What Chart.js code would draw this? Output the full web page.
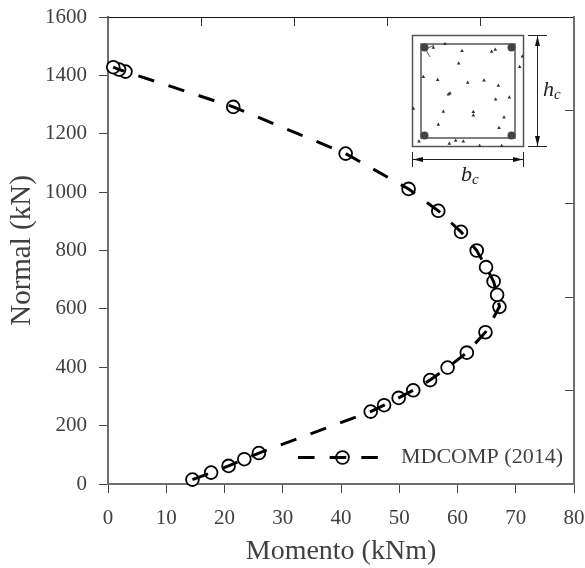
<!DOCTYPE html>
<html>
<head>
<meta charset="utf-8">
<title>Momento - Normal</title>
<script src="https://cdn.jsdelivr.net/npm/chart.js@4"></script>
<style>
    html, body { margin: 0; padding: 0; background: #fff; }
    canvas { display: block; }
</style>
</head>
<body>
<canvas id="chart" width="585" height="568"></canvas>
<script>
// Interaction curve, from the bottom up
const momento = [14.5, 17.7, 20.7, 23.4, 25.9, 45.1, 47.4, 49.9, 52.4, 55.3, 58.3, 61.6, 64.8, 67.2, 66.8, 66.2, 64.9, 63.3, 60.6, 56.7, 51.6, 40.8, 21.5, 3.0, 1.9, 0.9];
const normal = [15, 39, 62, 85, 106, 248, 270, 295, 321, 356, 399, 450, 520, 607, 648, 694, 743, 800, 864, 936, 1011, 1132, 1292, 1413, 1420, 1428];

const seriesName = 'MDCOMP (2014)';
const xTitle = 'Momento (kNm)';
const yTitle = 'Normal (kN)';

const SERIF = '"Liberation Serif", serif';
const TEXT = '#404040';
const AXIS = '#6e6e6e';
const DASH = [16.6, 15.05];

// Aggregate specks of the column section, in inset pixels
const specks = [[165,101],[130,112],[216,122],[305,124],[316,118],[397,138],[206,159],[389,170],[100,200],[143,209],
    [233,217],[282,210],[325,226],[180,249],[175,252],[317,267],[358,261],[70,295],[160,304],[250,305],[250,315],
    [342,321],[145,343],[327,353],[87,393],[178,400],[197,391],[220,393],[269,407],[335,407]];

// Fix the plot box: no room kept for overflowing tick labels
function pinSize(size) {
    return scale => {
        if (scale.isHorizontal()) scale.height = size;
        else scale.width = size;
        scale.paddingTop = scale.paddingBottom = scale.paddingLeft = scale.paddingRight = 0;
    };
}

// Column cross section drawn over the top right corner
const insetPlugin = {
    id: 'inset',
    afterDraw(chart) {
        const c = chart.ctx;
        c.save();
        c.strokeStyle = '#555';
        c.lineWidth = 1.5;
        c.strokeRect(412.5, 35.5, 111, 111);
        c.strokeRect(421, 44, 94, 94);

        c.fillStyle = '#444';
        [[424.5, 47.5], [511.5, 47.5], [424.5, 135.5], [511.5, 135.5]].forEach(([x, y]) => {
            c.beginPath();
            c.arc(x, y, 4, 0, Math.PI * 2);
            c.fill();
        });

        c.fillStyle = '#333';
        specks.forEach(([x, y]) => {
            const px = 390 + x / 3, py = 10 + y / 3;
            c.beginPath();
            c.moveTo(px - 1.8, py + 1.4);
            c.lineTo(px + 1.8, py + 1.4);
            c.lineTo(px, py - 1.8);
            c.closePath();
            c.fill();
        });

        // Stirrup hook
        c.strokeStyle = '#333';
        c.lineWidth = 0.8;
        c.beginPath();
        c.moveTo(425, 48); c.lineTo(430, 57);
        c.moveTo(428, 48); c.lineTo(434, 45);
        c.stroke();

        // Dimension lines
        c.strokeStyle = '#222';
        c.lineWidth = 1;
        c.beginPath();
        c.moveTo(528, 35.5); c.lineTo(547, 35.5);
        c.moveTo(528, 146.5); c.lineTo(547, 146.5);
        c.moveTo(537.5, 35.5); c.lineTo(537.5, 146.5);
        c.moveTo(412.5, 152); c.lineTo(412.5, 167);
        c.moveTo(523.5, 152); c.lineTo(523.5, 167);
        c.moveTo(412.5, 159.5); c.lineTo(523.5, 159.5);
        c.stroke();

        c.fillStyle = '#111';
        const arrow = (x, y, dx, dy) => {
            c.beginPath();
            c.moveTo(x, y);
            c.lineTo(x + dx * 10 - dy * 2.5, y + dy * 10 - dx * 2.5);
            c.lineTo(x + dx * 10 + dy * 2.5, y + dy * 10 + dx * 2.5);
            c.closePath();
            c.fill();
        };
        arrow(537.5, 36, 0, 1);
        arrow(537.5, 146, 0, -1);
        arrow(413, 159.5, 1, 0);
        arrow(523, 159.5, -1, 0);

        // Labels
        c.fillStyle = '#222';
        c.textBaseline = 'alphabetic';
        c.textAlign = 'left';
        c.font = 'italic 22px ' + SERIF;
        c.fillText('h', 543, 96);
        c.fillText('b', 461, 181);
        c.font = 'italic 15px ' + SERIF;
        c.fillText('c', 554, 99);
        c.fillText('c', 472, 184);

        // Legend
        const ly = 457.5;
        c.strokeStyle = '#000';
        c.lineWidth = 3;
        c.setLineDash(DASH);
        c.beginPath();
        c.moveTo(298, ly);
        c.lineTo(378, ly);
        c.stroke();
        c.setLineDash([]);
        c.lineWidth = 1.8;
        c.beginPath();
        c.arc(342.5, ly, 6.4, 0, Math.PI * 2);
        c.stroke();
        c.fillStyle = TEXT;
        c.textBaseline = 'middle';
        c.font = '22px ' + SERIF;
        c.fillText(seriesName, 401, ly);
        c.restore();
    }
};

const points = momento.map((m, i) => ({ x: m, y: normal[i] }));

new Chart(document.getElementById('chart').getContext('2d'), {
    type: 'scatter',
    plugins: [insetPlugin],
    data: {
        datasets: [
            {
                // dashes run over the white markers, so markers go first
                label: seriesName,
                data: points,
                order: 2,
                showLine: false,
                clip: false,
                pointRadius: 6.4,
                pointBorderWidth: 1.8,
                pointBackgroundColor: '#fff',
                pointBorderColor: '#000'
            },
            {
                label: seriesName + ' line',
                data: points,
                order: 1,
                showLine: true,
                pointRadius: 0,
                borderColor: '#000',
                borderWidth: 3,
                borderDash: DASH,
                borderCapStyle: 'butt',
                tension: 0
            }
        ]
    },
    options: {
        responsive: false,
        animation: false,
        layout: { padding: { top: 17, right: 11, left: 0, bottom: 0 } },
        plugins: {
            legend: { display: false },
            tooltip: { enabled: false }
        },
        scales: {
            x: {
                type: 'linear',
                min: 0,
                max: 80,
                position: 'bottom',
                afterFit: pinSize(84),
                border: { color: AXIS, width: 2 },
                grid: { drawOnChartArea: false, tickLength: 9, tickColor: '#444', tickWidth: 1 },
                ticks: { stepSize: 10, maxRotation: 0, color: TEXT, padding: 13, font: { family: SERIF, size: 21 }, callback: v => String(v) },
                title: { display: true, text: xTitle, color: TEXT, padding: { top: 7, bottom: 0 }, font: { family: SERIF, size: 28 } }
            },
            y: {
                type: 'linear',
                min: 0,
                max: 1600,
                position: 'left',
                afterFit: pinSize(108),
                border: { color: AXIS, width: 2 },
                grid: { drawOnChartArea: false, tickLength: 9, tickColor: '#444', tickWidth: 1 },
                ticks: { stepSize: 200, color: TEXT, padding: 12, font: { family: SERIF, size: 21 }, callback: v => String(v) },
                title: { display: true, text: yTitle, color: TEXT, padding: { top: 5, bottom: 0 }, font: { family: SERIF, size: 29 } }
            },
            // Top and right frame, inward ticks only
            x2: {
                type: 'linear',
                min: 0,
                max: 80,
                position: 'top',
                afterFit: pinSize(0),
                border: { color: '#111', width: 1 },
                grid: { drawOnChartArea: false, tickLength: -9, tickColor: '#333', tickWidth: 1 },
                ticks: { stepSize: 16, display: false }
            },
            y2: {
                type: 'linear',
                min: 0,
                max: 1600,
                position: 'right',
                afterFit: pinSize(0),
                border: { color: AXIS, width: 2 },
                grid: { drawOnChartArea: false, tickLength: -9, tickColor: '#444', tickWidth: 1 },
                ticks: { stepSize: 320, display: false }
            }
        }
    }
});
</script>
</body>
</html>
